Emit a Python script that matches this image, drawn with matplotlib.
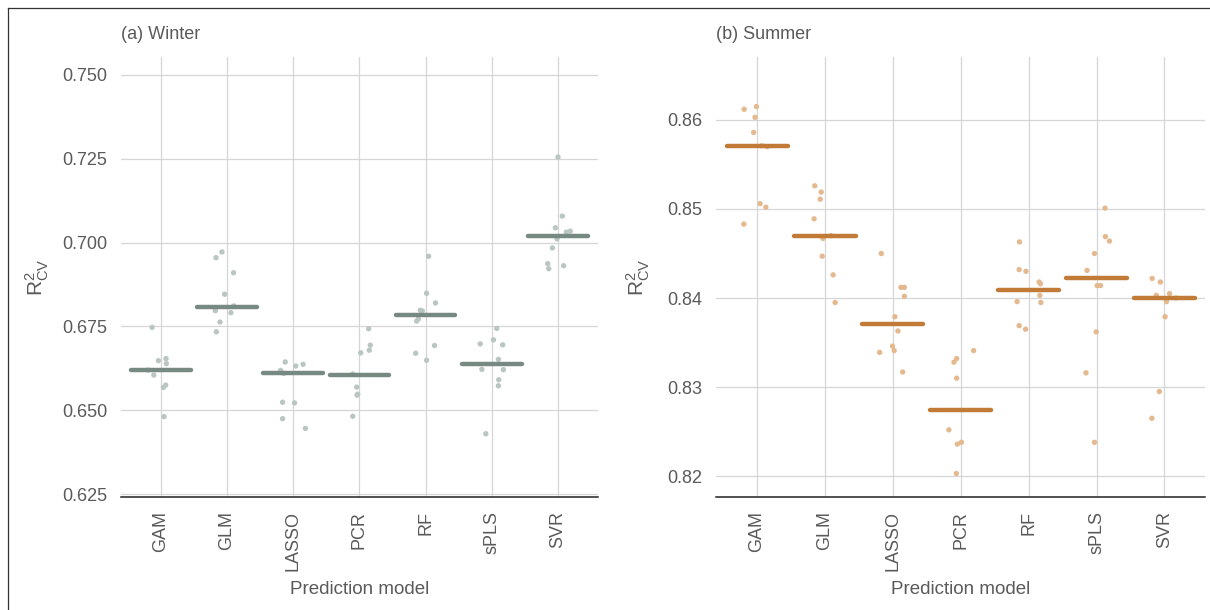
import matplotlib
matplotlib.use('Agg')
import matplotlib.pyplot as plt
from matplotlib.lines import Line2D

plt.rcParams['font.family'] = ['Liberation Sans', 'DejaVu Sans']
plt.rcParams['mathtext.fontset'] = 'custom'
plt.rcParams['mathtext.rm'] = 'Liberation Sans'

models = ['GAM', 'GLM', 'LASSO', 'PCR', 'RF', 'sPLS', 'SVR']

# R2 of each CV fold, with the jitter seen in the picture
winter_r2 = [
    [0.6747, 0.6648, 0.6654, 0.6639, 0.6620, 0.6605, 0.6568, 0.6575, 0.6481],
    [0.6955, 0.6972, 0.6910, 0.6846, 0.6811, 0.6797, 0.6791, 0.6763, 0.6734],
    [0.6644, 0.6632, 0.6637, 0.6619, 0.6610, 0.6524, 0.6522, 0.6475, 0.6446],
    [0.6743, 0.6671, 0.6694, 0.6679, 0.6608, 0.6569, 0.6545, 0.6548, 0.6482],
    [0.6959, 0.6849, 0.6820, 0.6798, 0.6796, 0.6772, 0.6766, 0.6670, 0.6693, 0.6649],
    [0.6744, 0.6710, 0.6698, 0.6695, 0.6652, 0.6622, 0.6621, 0.6591, 0.6573, 0.6430],
    [0.7255, 0.7079, 0.7044, 0.7031, 0.7034, 0.7011, 0.6984, 0.6937, 0.6922, 0.6931],
]
winter_jit = [
    [-0.13, -0.035, 0.08, 0.085, -0.19, -0.105, 0.04, 0.075, 0.05],
    [-0.165, -0.075, 0.10, -0.035, 0.105, -0.175, 0.06, -0.105, -0.16],
    [-0.12, 0.04, 0.15, -0.19, -0.145, -0.16, 0.02, -0.16, 0.185],
    [0.14, 0.02, 0.165, 0.15, -0.10, -0.04, -0.035, -0.025, -0.10],
    [0.045, 0.015, 0.15, -0.08, -0.05, -0.11, -0.135, -0.15, 0.135, 0.015],
    [0.075, 0.025, -0.175, 0.165, 0.10, -0.15, 0.175, 0.105, 0.10, -0.09],
    [0.0, 0.065, -0.04, 0.125, 0.185, -0.015, -0.085, -0.155, -0.14, 0.085],
]
winter_mid = [0.6620, 0.6809, 0.6611, 0.6606, 0.6784, 0.6637, 0.7021]

summer_r2 = [
    [0.8612, 0.8615, 0.8603, 0.8586, 0.8571, 0.8570, 0.8506, 0.8502, 0.8483],
    [0.8526, 0.8519, 0.8511, 0.8489, 0.8470, 0.8467, 0.8447, 0.8426, 0.8395],
    [0.8450, 0.8412, 0.8412, 0.8402, 0.8379, 0.8363, 0.8346, 0.8341, 0.8339, 0.8317],
    [0.8341, 0.8332, 0.8328, 0.8310, 0.8252, 0.8236, 0.8238, 0.8203],
    [0.8463, 0.8432, 0.8430, 0.8418, 0.8416, 0.8403, 0.8396, 0.8395, 0.8369, 0.8365],
    [0.8501, 0.8469, 0.8464, 0.8450, 0.8431, 0.8414, 0.8414, 0.8362, 0.8316, 0.8238],
    [0.8422, 0.8418, 0.8403, 0.8405, 0.8400, 0.8396, 0.8379, 0.8295, 0.8265],
]
summer_jit = [
    [-0.19, -0.01, -0.03, -0.05, 0.07, 0.15, 0.045, 0.13, -0.195],
    [-0.15, -0.055, -0.07, -0.16, 0.09, -0.03, -0.04, 0.12, 0.15],
    [-0.17, 0.12, 0.17, 0.17, 0.03, 0.075, -0.005, 0.02, -0.195, 0.145],
    [0.19, -0.06, -0.10, -0.06, -0.175, -0.05, 0.01, -0.065],
    [-0.135, -0.14, -0.04, 0.155, 0.175, 0.165, -0.17, 0.18, -0.14, -0.045],
    [0.125, 0.13, 0.19, -0.03, -0.14, 0.01, 0.06, -0.005, -0.155, -0.03],
    [-0.18, -0.06, -0.12, 0.075, 0.17, 0.03, 0.01, -0.075, -0.185],
]
summer_mid = [0.8571, 0.8470, 0.8371, 0.8274, 0.8409, 0.8422, 0.8400]

winter_ticks = [0.625, 0.650, 0.675, 0.700, 0.725, 0.750]
summer_ticks = [0.82, 0.83, 0.84, 0.85, 0.86]

txt = '#5a5a5a'
grid = '#d6d6d6'


def panel(ax, r2, jit, mid, col_bar, col_dot, ticks, fmt, ylim, title):
    for i in range(len(models)):
        xs = [i + j for j in jit[i]]
        ax.scatter(xs, r2[i], s=15, color=col_dot, edgecolors='none', zorder=3)
        ax.plot([i - 0.45, i + 0.45], [mid[i], mid[i]], color=col_bar, lw=3.2,
                solid_capstyle='round', zorder=4)
    ax.set_xlim(-0.6, 6.6)
    ax.set_ylim(ylim)
    ax.set_xticks(range(len(models)))
    ax.set_xticklabels(models, rotation=90, va='top', ha='center')
    ax.set_yticks(ticks)
    ax.set_yticklabels([fmt % t for t in ticks])
    ax.tick_params(length=0, pad=10, labelsize=13, colors=txt)
    ax.grid(True, color=grid, lw=0.9)
    ax.set_axisbelow(True)
    for s in ['left', 'right', 'top']:
        ax.spines[s].set_visible(False)
    ax.spines['bottom'].set_color('#222222')
    ax.spines['bottom'].set_linewidth(1.1)
    ax.set_xlabel('Prediction model', fontsize=13.5, color=txt)
    ax.set_ylabel(r'$\mathregular{R^2_{CV}}$', fontsize=15, color=txt)
    ax.xaxis.set_label_coords(0.5, -0.19)
    ax.set_title(title, loc='left', fontsize=13, color=txt, pad=13)


fig = plt.figure(figsize=(12.1, 6.1), dpi=100)
ax1 = fig.add_axes([0.100, 0.185, 0.394, 0.722])
ax2 = fig.add_axes([0.592, 0.185, 0.404, 0.722])

panel(ax1, winter_r2, winter_jit, winter_mid, '#768a81', '#bac6c0',
      winter_ticks, '%.3f', (0.6241, 0.7554), '(a) Winter')
panel(ax2, summer_r2, summer_jit, summer_mid, '#c27b36', '#e4b98f',
      summer_ticks, '%.2f', (0.81764, 0.8671), '(b) Summer')
ax1.yaxis.set_label_coords(-0.147, 0.5)
ax2.yaxis.set_label_coords(-0.131, 0.5)

# frame around the whole figure (only top and left fall inside the picture)
fig.add_artist(Line2D([8 / 1210, 1.0], [1 - 8 / 610, 1 - 8 / 610], color='#333333', lw=0.9))
fig.add_artist(Line2D([8 / 1210, 8 / 1210], [0.0, 1 - 8 / 610], color='#333333', lw=0.9))

fig.savefig('out.png', dpi=100)
